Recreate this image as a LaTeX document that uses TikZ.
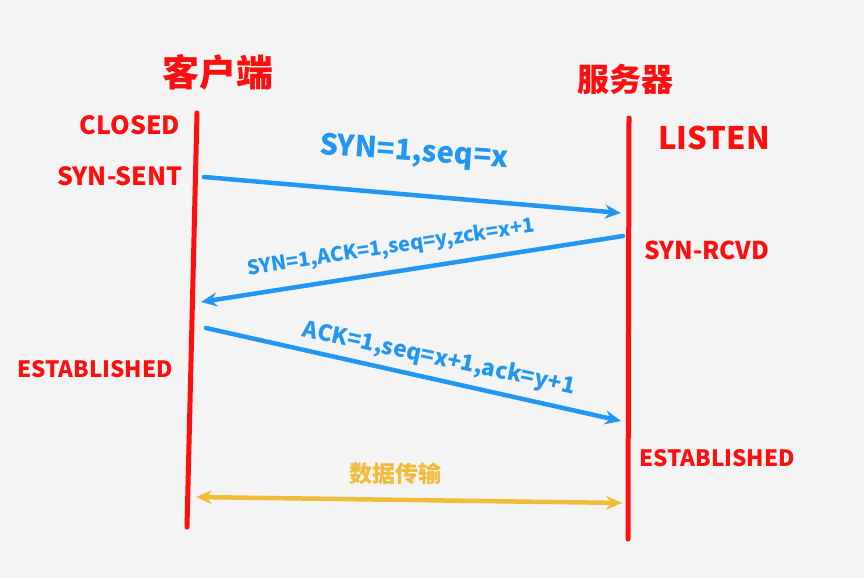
\documentclass[tikz,border=0pt]{standalone}
\usepackage{fontspec}
\setmainfont{Noto Sans CJK SC}
\usepackage{tikz}
\usetikzlibrary{arrows.meta,positioning,calc}
\definecolor{bggray}{HTML}{F4F4F4}
\definecolor{stred}{HTML}{FF0E0E}
\definecolor{msgblue}{HTML}{2196F3}
\definecolor{datayellow}{HTML}{F0BC3A}

\begin{document}
\begin{tikzpicture}[x=1pt, y=-1pt,
    lifeline/.style={draw=stred, line width=5pt, line cap=round},
    msg/.style={draw=msgblue, line width=4.5pt, line cap=round, -{Stealth[length=16pt,width=14pt]}},
    state/.style={text=stred, font=\bfseries\fontsize{25}{25}\selectfont},
    side/.style={text=stred, font=\bfseries\fontsize{37}{37}\selectfont},
    msglabel/.style={text=msgblue, font=\bfseries\fontsize{20}{20}\selectfont}]
    \fill[bggray] (0,0) rectangle (864,578);
    \useasboundingbox (0,0) rectangle (864,578);

    % lifelines
    \coordinate (ctop) at (197,113);
    \coordinate (cbot) at (187,527);
    \coordinate (stop) at (629,118);
    \coordinate (sbot) at (628,539);
    \draw[lifeline] (ctop) -- (cbot);
    \draw[lifeline] (stop) -- (sbot);

    \node[side] (client) at (218,72) {客户端};
    \node[side, font=\bfseries\fontsize{32}{32}\selectfont] (server) at (625,79) {服务器};

    % states
    \node[state] (closed) at (130,125) {CLOSED};
    \node[state] (synsent) at (120,176) {SYN-SENT};
    \node[state, font=\bfseries\fontsize{22.5}{22.5}\selectfont] (estc) at (95,369) {ESTABLISHED};
    \node[state, font=\bfseries\fontsize{31}{31}\selectfont] (listen) at (714,138) {LISTEN};
    \node[state, font=\bfseries\fontsize{24.5}{24.5}\selectfont] (synrcvd) at (707,250) {SYN-RCVD};
    \node[state, font=\bfseries\fontsize{22.5}{22.5}\selectfont] (ests) at (717,458) {ESTABLISHED};

    % handshake
    \coordinate (m1a) at (204,177);
    \coordinate (m1b) at (621,213);
    \coordinate (m2a) at (623,236);
    \coordinate (m2b) at (201,302);
    \coordinate (m3a) at (206,328);
    \coordinate (m3b) at (621,421);
    \draw[msg] (m1a) -- (m1b);
    \draw[msg] (m2a) -- (m2b);
    \draw[msg] (m3a) -- (m3b);
    \node[msglabel, font=\bfseries\fontsize{29}{29}\selectfont, rotate=-4] (l1) at (414,153) {SYN=1,seq=x};
    \node[msglabel, rotate=8.5] (l2) at (391,248) {SYN=1,ACK=1,seq=y,zck=x+1};
    \node[msglabel, font=\bfseries\fontsize{22.5}{22.5}\selectfont, rotate=-12] (l3) at (439,359) {ACK=1,seq=x+1,ack=y+1};

    % data
    \coordinate (da) at (196,497);
    \coordinate (db) at (622,503);
    \draw[draw=datayellow, line width=4.5pt, {Stealth[length=16pt,width=14pt]}-{Stealth[length=16pt,width=14pt]}] (da) -- (db);
    \node[text=datayellow, font=\bfseries\fontsize{23}{23}\selectfont] (data) at (395,474) {数据传输};
\end{tikzpicture}
\end{document}
